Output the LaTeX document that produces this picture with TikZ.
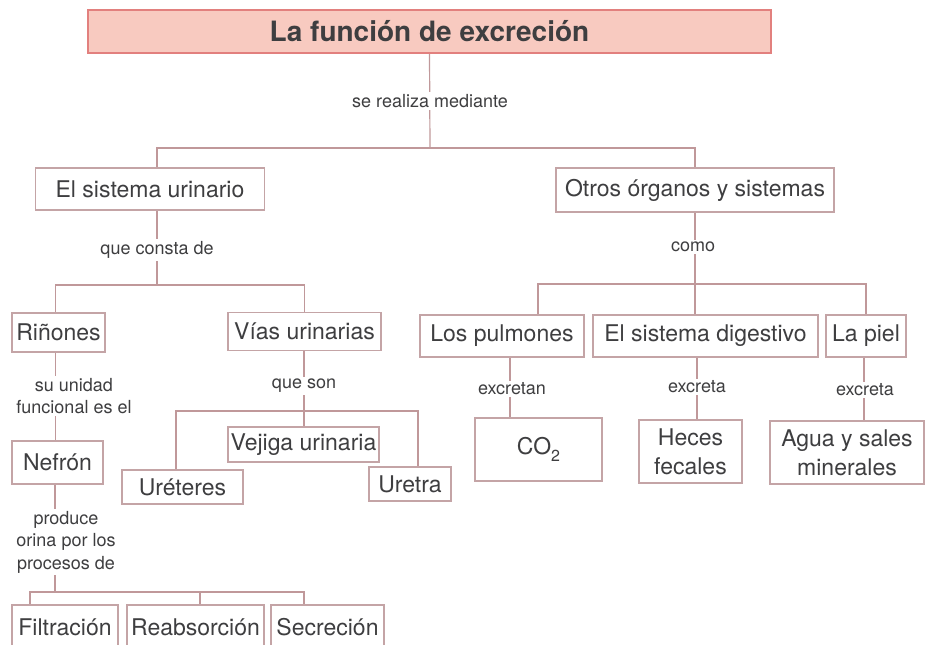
\documentclass[tikz,border=0pt]{standalone}
\usepackage{fontspec}
\setmainfont{TeX Gyre Heros}
\usetikzlibrary{backgrounds}
\definecolor{ink}{RGB}{62,62,64}
\definecolor{boxline}{RGB}{196,164,166}
\definecolor{linkline}{RGB}{192,152,154}
\definecolor{titlefill}{RGB}{248,202,192}
\definecolor{titleline}{RGB}{226,128,126}
\tikzset{
 concept/.style={draw=boxline, line width=1.1pt, fill=white, text=ink, inner sep=0pt, align=center, font=\fontsize{23}{29}\selectfont},
 linking/.style={fill=white, text=ink, inner sep=2pt, align=center, font=\fontsize{18}{22.5}\selectfont},
 tree/.style={draw=linkline, line width=1.2pt}
}
\newcommand{\concept}[5]{%
 \node[concept, minimum width=#3, minimum height=#4] ({#1}) at ({#2}) {#5};%
}
\newcommand{\linking}[3]{%
 \node[linking] ({#1}) at ({#2}) {#3};%
}

\begin{document}
\begin{tikzpicture}[x=1pt,y=-1pt]
   \useasboundingbox (0,0) rectangle (927,645);
   \node[draw=titleline, fill=titlefill, line width=1.2pt, text=ink, minimum width=683pt, minimum height=43pt,
     font=\bfseries\fontsize{28}{32}\selectfont] (tit) at (429.5,31.5) {La función de excreción};
   \concept{sisu}{150,189}{229pt}{42pt}{El sistema urinario}
   \concept{otros}{695,190}{278pt}{44pt}{Otros órganos y sistemas}
   \concept{rin}{58.5,332.5}{93pt}{39pt}{Riñones}
   \concept{vias}{304.5,331.5}{153pt}{38pt}{Vías urinarias}
   \concept{nef}{57.5,462.5}{91pt}{43pt}{Nefrón}
   \concept{vej}{303.5,444.5}{151pt}{35pt}{Vejiga urinaria}
   \concept{ure}{182.5,487}{121pt}{34pt}{Uréteres}
   \concept{uret}{410,484}{82pt}{34pt}{Uretra}
   \concept{fil}{65,627}{106pt}{44pt}{Filtración}
   \concept{rea}{195.5,627}{137pt}{44pt}{Reabsorción}
   \concept{sec}{327.5,627}{113pt}{44pt}{Secreción}
   \concept{pul}{502,336}{164pt}{42pt}{Los pulmones}
   \concept{dig}{705.5,336}{225pt}{42pt}{El sistema digestivo}
   \concept{piel}{866,336}{80pt}{42pt}{La piel}
   \concept{co2}{538.5,449.5}{127pt}{63pt}{CO\raisebox{-7pt}{\fontsize{16}{16}\selectfont 2}}
   \concept{hec}{690.5,451.5}{103pt}{63pt}{Heces\\fecales}
   \concept{agua}{847,452.5}{154pt}{63pt}{Agua y sales\\minerales}
   \linking{lab1}{430,101}{se realiza mediante}
   \linking{lab2}{157,250}{que consta de}
   \linking{lab3}{74,396}{su unidad\\funcional es el}
   \linking{lab4}{66,542}{produce\\orina por los\\procesos de}
   \linking{lab5}{304,386}{que son}
   \linking{lab6}{693,247}{como}
   \linking{lab7}{512,389}{excretan}
   \linking{lab8}{697,387}{excreta}
   \linking{lab9}{865,390}{excreta}
   \coordinate (b1) at (430,148);
   \coordinate (b2) at (157,285);
   \coordinate (b4) at (55,592);
   \coordinate (b5) at (304,411);
   \coordinate (b6) at (695,284);
   \begin{scope}[on background layer]
    \draw[tree] (tit.south) -- (b1);
    \draw[tree] ([xshift=7pt]sisu.north) |- (b1) -| (otros.north);
    \draw[tree] (b2 |- sisu.south) -- (b2);
    \draw[tree] ([xshift=-3pt]rin.north) |- (b2) -| (vias.north);
    \draw[tree] ([xshift=-3pt]rin.south) -- ([xshift=-3pt]rin.south |- nef.north);
    \draw[tree] (b4 |- nef.south) -- (b4);
    \draw[tree] ([xshift=-35pt]fil.north) |- (b4) -| ([xshift=-23.5pt]sec.north);
    \draw[tree] ([xshift=4.5pt]rea.north) -- ([xshift=4.5pt]rea.north |- b4);
    \draw[tree] (b5 |- vias.south) -- (b5 |- vej.north);
    \draw[tree] ([xshift=-6.5pt]ure.north) |- (b5) -| ([xshift=8pt]uret.north);
    \draw[tree] (b6 |- otros.south) -- (b6 |- dig.north);
    \draw[tree] ([xshift=36pt]pul.north) |- (b6) -| (piel.north);
    \draw[tree] ([xshift=8pt]pul.south) -- ([xshift=8pt]pul.south |- co2.north);
    \draw[tree] ([xshift=-8.5pt]dig.south) -- ([xshift=-8.5pt]dig.south |- hec.north);
    \draw[tree] ([xshift=-2pt]piel.south) -- ([xshift=-2pt]piel.south |- agua.north);
   \end{scope}
\end{tikzpicture}
\end{document}
